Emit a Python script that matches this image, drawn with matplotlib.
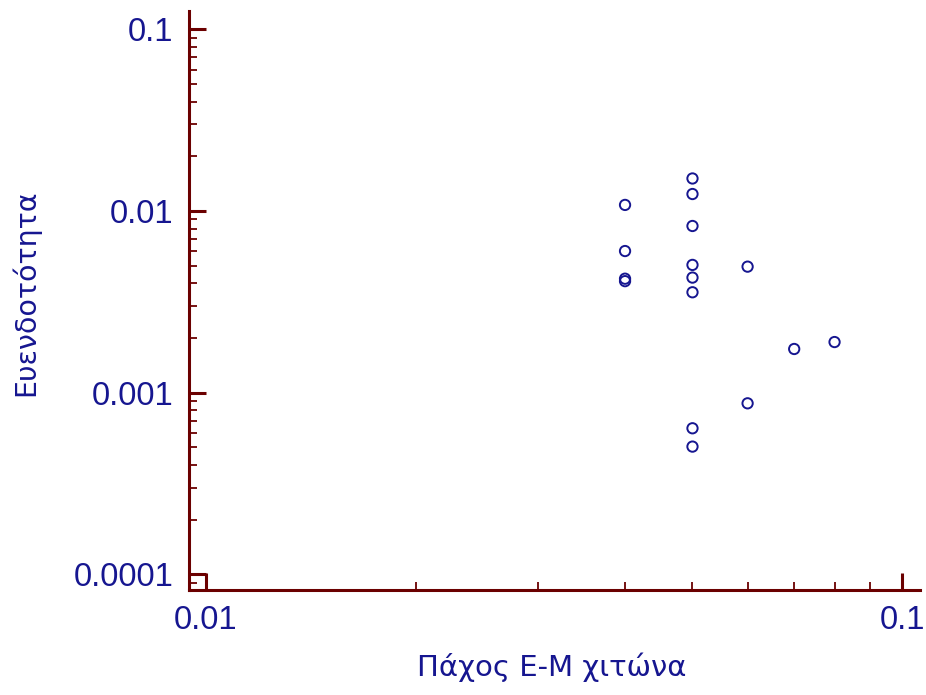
import matplotlib
matplotlib.use("Agg")
import matplotlib.pyplot as plt
from matplotlib.ticker import FixedLocator, FixedFormatter, LogLocator, NullFormatter

# Data (x: Πάχος Ε-Μ χιτώνα, y: Ευενδοτότητα)
x_vals = [0.05, 0.05, 0.04, 0.05, 0.04, 0.05, 0.06, 0.05, 0.04, 0.04,
          0.05, 0.08, 0.07, 0.06, 0.05, 0.05]
y_vals = [0.0151, 0.0124, 0.0108, 0.00827, 0.00602, 0.00505, 0.00494, 0.00430,
          0.00424, 0.00411, 0.00357, 0.00190, 0.00174, 0.000874, 0.000637, 0.000505]

x_ticks = [0.01, 0.1]
x_tick_labels = ["0.01", "0.1"]
y_ticks = [0.0001, 0.001, 0.01, 0.1]
y_tick_labels = ["0.0001", "0.001", "0.01", "0.1"]

x_label = "Πάχος Ε-Μ χιτώνα"
y_label = "Ευενδοτότητα"

axis_color = "#6b0000"
text_color = "#161690"
marker_color = "#161690"

fig = plt.figure(figsize=(9.26, 6.95), dpi=100)
ax = fig.add_axes([189 / 926, 105 / 695, (920 - 189) / 926, (590 - 11) / 695])

ax.scatter(x_vals, y_vals, s=55, facecolors="none", edgecolors=marker_color,
           linewidths=1.4, zorder=3)

ax.set_xscale("log")
ax.set_yscale("log")
ax.set_xlim(10 ** -2.02443, 10 ** -0.97414)
ax.set_ylim(10 ** -4.0859, 10 ** -0.8993)

ax.xaxis.set_major_locator(FixedLocator(x_ticks))
ax.xaxis.set_major_formatter(FixedFormatter(x_tick_labels))
ax.yaxis.set_major_locator(FixedLocator(y_ticks))
ax.yaxis.set_major_formatter(FixedFormatter(y_tick_labels))
ax.xaxis.set_minor_locator(LogLocator(base=10, subs=range(2, 10)))
ax.yaxis.set_minor_locator(LogLocator(base=10, subs=range(2, 10)))
ax.xaxis.set_minor_formatter(NullFormatter())
ax.yaxis.set_minor_formatter(NullFormatter())

for s in ["top", "right"]:
    ax.spines[s].set_visible(False)
for s in ["left", "bottom"]:
    ax.spines[s].set_color(axis_color)
    ax.spines[s].set_linewidth(2.2)
    ax.spines[s].set_capstyle("projecting")

ax.tick_params(which="major", direction="in", length=12.2, width=2.2,
               color=axis_color, labelcolor=text_color, labelsize=23.5, pad=11)
ax.tick_params(which="minor", direction="in", length=5.8, width=1.3,
               color=axis_color)
for lab in ax.get_xticklabels() + ax.get_yticklabels():
    lab.set_family("Liberation Sans")

fig.text(552 / 926, 1 - 667 / 695, x_label, ha="center", va="center",
         fontsize=21, color=text_color, family="DejaVu Sans")
fig.text(26 / 926, 1 - 293 / 695, y_label, ha="center", va="center",
         rotation=90, fontsize=20.5, color=text_color, family="DejaVu Sans")

fig.savefig("out.png", dpi=100)
